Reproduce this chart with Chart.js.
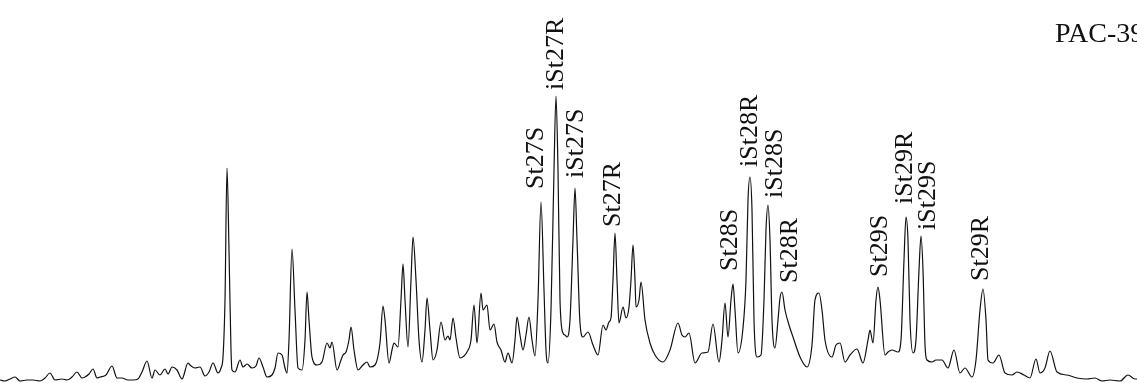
<!DOCTYPE html>
<html lang="en">
<head>
    <meta charset="UTF-8">
    <title>PAC-39 steranes</title>
    <script src="https://cdn.jsdelivr.net/npm/chart.js"></script>
    <style>
        html, body {
            margin: 0;
            padding: 0;
            background: #fff;
        }
        .container {
            width: 1137px;
            height: 383px;
            position: relative;
        }
    </style>
</head>
<body>

<div class="container">
    <canvas id="trace"></canvas>
</div>

<script>
    // retention position (arbitrary units) and abundance of the trace
    const retention = [
        0, 5, 10, 15, 20, 27, 33, 40, 45, 50, 55, 62, 67, 72, 77, 82, 85, 89, 93, 97,
        100, 106, 112, 117, 122, 128, 133, 138, 142, 147, 152, 155, 160, 165, 168, 172, 177, 182, 188, 190,
        195, 200, 205, 209, 213, 218, 221, 223, 225, 227, 229, 231, 232, 235, 240, 243, 247, 252, 256, 259,
        263, 267, 272, 275, 278, 282, 285, 287, 289, 292, 295, 298, 302, 305, 307, 309, 312, 317, 322, 327,
        330, 332, 337, 341, 343, 346, 349, 351, 354, 358, 363, 367, 370, 375, 380, 383, 385, 389, 392, 394,
        398, 401, 403, 405, 408, 411, 413, 416, 419, 422, 425, 427, 430, 433, 437, 441, 445, 448, 450, 453,
        456, 460, 464, 467, 471, 474, 477, 481, 483, 487, 490, 494, 497, 501, 505, 508, 512, 515, 517, 520,
        523, 526, 529, 532, 535, 538, 541, 544, 546, 548, 551, 554, 556, 558, 560, 563, 565, 567, 570, 573,
        575, 577, 580, 583, 588, 593, 598, 603, 606, 609, 611, 613, 615, 617, 619, 623, 626, 629, 631, 633,
        635, 636, 639, 641, 645, 650, 655, 663, 670, 678, 682, 685, 689, 695, 702, 708, 713, 719, 722, 725,
        728, 731, 733, 735, 738, 743, 746, 748, 750, 752, 754, 757, 761, 764, 766, 768, 770, 772, 775, 778,
        780, 782, 785, 789, 793, 800, 807, 812, 815, 819, 822, 825, 832, 836, 840, 845, 850, 857, 863, 868,
        870, 873, 876, 878, 880, 885, 888, 892, 898, 901, 904, 906, 908, 910, 913, 916, 919, 921, 923, 925,
        927, 932, 936, 942, 948, 954, 960, 965, 972, 976, 980, 983, 986, 988, 993, 999, 1005, 1012, 1017, 1024,
        1030, 1036, 1040, 1045, 1050, 1057, 1067, 1077, 1087, 1095, 1102, 1110, 1120, 1128, 1135, 1137
    ];

    const abundance = [
        1, 0, 2, 4, 0, 1, 1, 0, 3, 8, 1, 2, 1, 4, 9, 3, 4, 7, 12, 3,
        4, 6, 15, 3, 3, 1, 1, 2, 9, 20, 3, 11, 6, 12, 7, 14, 11, 2, 18, 16,
        13, 14, 5, 9, 18, 8, 13, 24, 81, 213, 131, 31, 11, 9, 21, 14, 17, 13, 15, 23,
        14, 4, 6, 13, 28, 26, 13, 8, 41, 132, 71, 13, 11, 41, 89, 61, 24, 16, 19, 38,
        33, 39, 11, 21, 26, 29, 41, 54, 31, 11, 16, 19, 14, 16, 38, 75, 61, 18, 31, 38,
        34, 81, 117, 81, 34, 101, 144, 101, 41, 19, 51, 83, 51, 21, 31, 59, 41, 45, 41, 63,
        43, 23, 25, 29, 41, 76, 38, 88, 71, 76, 51, 57, 39, 31, 19, 28, 18, 41, 64, 46,
        31, 46, 64, 41, 25, 81, 179, 91, 31, 18, 71, 211, 285, 211, 81, 48, 46, 44, 61, 141,
        193, 141, 58, 44, 49, 36, 26, 56, 51, 59, 63, 101, 148, 101, 58, 74, 63, 74, 101, 136,
        101, 74, 81, 99, 61, 38, 26, 19, 31, 58, 46, 44, 48, 18, 28, 29, 57, 19, 41, 78,
        44, 81, 97, 71, 28, 53, 101, 181, 204, 171, 61, 24, 26, 81, 151, 176, 141, 61, 33, 61,
        83, 89, 71, 56, 44, 24, 14, 36, 81, 88, 71, 41, 24, 36, 38, 19, 26, 32, 18, 41,
        51, 38, 81, 94, 81, 26, 29, 31, 29, 41, 121, 164, 141, 61, 28, 41, 111, 145, 111, 36,
        21, 19, 21, 21, 13, 31, 8, 13, 4, 21, 71, 92, 61, 21, 18, 26, 8, 6, 9, 6,
        3, 22, 8, 13, 30, 9, 6, 3, 2, 3, 0, 1, 0, 6, 2, 2
    ];

    // identified peaks, by retention position
    const peakNames = ['St27S', 'iSt27R', 'iSt27S', 'St27R', 'St28S', 'iSt28R',
                       'iSt28S', 'St28R', 'St29S', 'iSt29R', 'iSt29S', 'St29R'];
    const peakRetention = [541, 556, 575, 615, 733, 750, 768, 782, 878, 906, 921, 983];

    const sampleName = 'PAC-39';

    // label placement: shift right of the peak and gap above it (px)
    const labelShift = [2, 7, 8, 5, 4, 7, 14, 15, 9, 6, 14, 5];
    const labelGap = [13, 6, 10, 6, 13, 10, 7, 9, 10, 13, 6, 8];

    const points = retention.map((r, i) => ({ x: r, y: abundance[i] }));

    const peakLabels = {
        id: 'peakLabels',
        afterDatasetsDraw(chart) {
            const ctx = chart.ctx;
            const xs = chart.scales.x;
            const ys = chart.scales.y;
            ctx.save();
            ctx.fillStyle = '#111';
            ctx.font = '26px "Liberation Serif", "DejaVu Serif", serif';
            ctx.textAlign = 'left';
            ctx.textBaseline = 'alphabetic';
            peakNames.forEach((name, i) => {
                const idx = retention.indexOf(peakRetention[i]);
                const px = xs.getPixelForValue(peakRetention[i]);
                const py = ys.getPixelForValue(abundance[idx]);
                ctx.save();
                ctx.translate(px + labelShift[i], py - labelGap[i]);
                ctx.rotate(-Math.PI / 2);
                ctx.fillText(name, 0, 0);
                ctx.restore();
            });

            ctx.font = '28px "Liberation Serif", "DejaVu Serif", serif';
            ctx.fillText(sampleName, 1055, 42);
            ctx.restore();
        }
    };

    new Chart(document.getElementById('trace'), {
        type: 'line',
        data: {
            datasets: [{
                data: points,
                borderColor: '#111',
                borderWidth: 1.2,
                pointRadius: 0,
                cubicInterpolationMode: 'monotone',
                fill: false
            }]
        },
        options: {
            responsive: true,
            maintainAspectRatio: false,
            animation: false,
            layout: { padding: 0 },
            plugins: {
                legend: { display: false },
                tooltip: { enabled: false }
            },
            scales: {
                x: { type: 'linear', min: 0, max: 1137, display: false },
                y: { min: -2, max: 381, display: false }
            }
        },
        plugins: [peakLabels]
    });
</script>

</body>
</html>
